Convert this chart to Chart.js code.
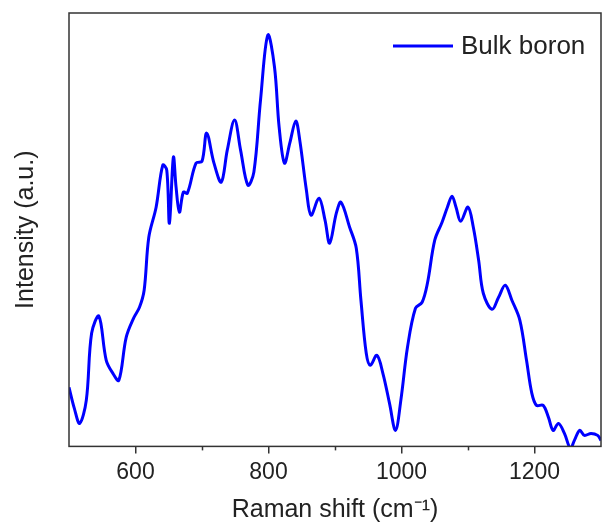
<!DOCTYPE html>
<html>
<head>
<meta charset="utf-8">
<script src="https://cdn.jsdelivr.net/npm/chart.js@4.4.1/dist/chart.umd.min.js"></script>
<style>
    html, body { margin: 0; padding: 0; background: #fff; }
</style>
</head>
<body>
<canvas id="ramanChart" width="606" height="528"></canvas>
<script>
// Raman spectrum of bulk boron
const shift = [500, 508, 516, 526, 534, 545, 556, 566, 575, 586, 597, 606, 613, 620, 631, 641, 647, 651, 657, 661,
    666, 672, 678, 691, 700, 707, 718, 729, 738, 749, 758, 769, 778, 788, 799, 809, 816, 824, 832, 841,
    847, 857, 864, 876, 885, 892, 902, 909, 922, 932, 939, 947, 953, 963, 972, 982, 991, 999, 1009, 1021,
    1031, 1039, 1050, 1061, 1069, 1076, 1082, 1089, 1100, 1108, 1116, 1123, 1136, 1146, 1156, 1166, 1178, 1188, 1196, 1203,
    1213, 1221, 1228, 1236, 1245, 1254, 1260, 1268, 1275, 1285, 1295, 1300];
const intensity = [59, 38, 23, 46, 113, 130, 86, 73, 66, 109, 128, 139, 156, 209, 239, 281, 276, 223, 289, 259,
    234, 254, 253, 283, 285, 313, 283, 264, 296, 326, 296, 261, 274, 346, 411, 379, 319, 283, 303, 325,
    306, 256, 231, 248, 226, 203, 233, 244, 219, 198, 146, 93, 81, 91, 73, 43, 16, 46, 99, 138,
    144, 163, 206, 224, 239, 250, 239, 225, 239, 219, 186, 153, 137, 149, 161, 146, 126, 86, 53, 41,
    41, 29, 16, 23, 13, -2, 6, 16, 11, 13, 11, 6];
const xLabels = [600, 800, 1000, 1200];
const minorTicks = [700, 900, 1100];
const seriesName = 'Bulk boron';

const FONT = "'Liberation Sans', Arial, sans-serif";
const INK = '#222';
const BLUE = '#0000ff';

// marco, ticks menores y leyenda
const framePlugin = {
    id: 'frame',
    afterDraw(chart) {
        const ctx = chart.ctx;
        const a = chart.chartArea;
        const xs = chart.scales.x;
        ctx.save();
        ctx.strokeStyle = '#333';
        ctx.lineWidth = 1.5;
        ctx.strokeRect(a.left, a.top, a.right - a.left, a.bottom - a.top);
        minorTicks.forEach(v => {
            const px = Math.round(xs.getPixelForValue(v)) + 0.5;
            ctx.beginPath();
            ctx.moveTo(px, a.bottom);
            ctx.lineTo(px, a.bottom + 4);
            ctx.stroke();
        });
        // leyenda
        const ly = a.top + 33;
        const lx = a.right - 208;
        ctx.strokeStyle = BLUE;
        ctx.lineWidth = 3;
        ctx.beginPath();
        ctx.moveTo(lx, ly);
        ctx.lineTo(lx + 60, ly);
        ctx.stroke();
        ctx.fillStyle = INK;
        ctx.font = '26px ' + FONT;
        ctx.textBaseline = 'middle';
        ctx.fillText(seriesName, lx + 68, ly + 1);
        ctx.restore();
    }
};

const ctx = document.getElementById('ramanChart').getContext('2d');
new Chart(ctx, {
    type: 'line',
    data: {
        datasets: [{
            label: seriesName,
            data: shift.map((s, i) => ({ x: s, y: intensity[i] })),
            borderColor: BLUE,
            borderWidth: 3,
            pointRadius: 0,
            tension: 0.35,
            fill: false
        }]
    },
    options: {
        responsive: false,
        animation: false,
        layout: { padding: { top: 13, right: 3, left: 0, bottom: 0 } },
        plugins: {
            legend: { display: false },
            tooltip: { enabled: false }
        },
        scales: {
            x: {
                type: 'linear',
                min: 500,
                max: 1300,
                border: { display: false },
                grid: {
                    drawOnChartArea: false,
                    tickLength: 7,
                    lineWidth: 1.5,
                    color: function (c) {
                        return xLabels.includes(c.tick && c.tick.value) ? '#333' : 'rgba(0,0,0,0)';
                    }
                },
                ticks: {
                    stepSize: 100,
                    autoSkip: false,
                    maxRotation: 0,
                    padding: 5,
                    color: INK,
                    font: { family: FONT, size: 23 },
                    callback: function (value) {
                        return xLabels.includes(value) ? String(value) : '';
                    }
                },
                title: {
                    display: true,
                    text: 'Raman shift (cm⁻¹)',
                    color: INK,
                    font: { family: FONT, size: 25 },
                    padding: { top: 4, bottom: 3 }
                }
            },
            y: {
                min: 0,
                max: 433,
                border: { display: false },
                grid: { display: false },
                ticks: { display: false },
                title: {
                    display: true,
                    text: 'Intensity (a.u.)',
                    color: INK,
                    font: { family: FONT, size: 25 },
                    padding: { top: 11, bottom: 20 }
                }
            }
        }
    },
    plugins: [framePlugin]
});
</script>
</body>
</html>
